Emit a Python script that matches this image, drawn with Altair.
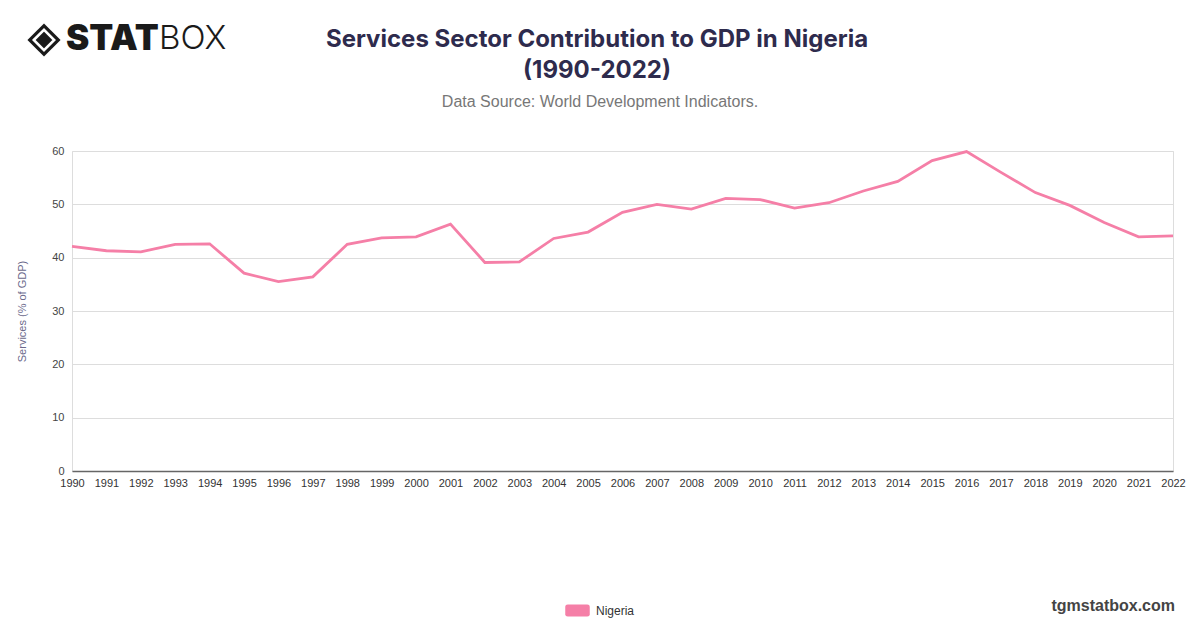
import altair as alt
import pandas as pd

years = list(range(1990, 2023))
services = [42.1, 41.3, 41.1, 42.5, 42.6, 37.1, 35.5, 36.4, 42.5, 43.7, 43.9, 46.3,
            39.1, 39.2, 43.6, 44.8, 48.5, 50.0, 49.1, 51.1, 50.9, 49.3, 50.3, 52.5,
            54.3, 58.2, 59.9, 56.0, 52.2, 49.8, 46.6, 43.9, 44.1]
country = ["Nigeria"] * len(years)

title_lines = ["Services Sector Contribution to GDP in Nigeria", "(1990-2022)"]
subtitle = "Data Source: World Development Indicators."

df = pd.DataFrame({"year": years, "value": services, "country": country})

PINK = "#F57FA7"

rounded = ("M-0.8,-0.5 H0.8 Q1,-0.5 1,-0.3 V0.3 Q1,0.5 0.8,0.5 H-0.8 "
           "Q-1,0.5 -1,0.3 V-0.3 Q-1,-0.5 -0.8,-0.5 Z")

line = alt.Chart(df).mark_line(strokeWidth=2.8, interpolate="linear").encode(
    x=alt.X("year:Q",
            scale=alt.Scale(domain=[1990, 2022], nice=False, zero=False),
            axis=alt.Axis(values=years, format="d", title=None, grid=False,
                          ticks=False, domainColor="#666666", domainWidth=1.5,
                          labelColor="#333333", labelFontSize=11,
                          labelFont="Liberation Sans", labelPadding=6,
                          labelOverlap=False, labelFlush=False)),
    y=alt.Y("value:Q",
            scale=alt.Scale(domain=[0, 60], nice=False),
            axis=alt.Axis(values=[0, 10, 20, 30, 40, 50, 60], title="Services (% of GDP)",
                          domain=False, ticks=False, gridColor="#dddddd",
                          labelColor="#444444", labelFontSize=11,
                          labelFont="Liberation Sans", labelPadding=8,
                          titleColor="#6b6a8c", titleFontSize=11,
                          titleFont="Liberation Sans", titleFontWeight="normal",
                          titlePadding=24)),
    color=alt.Color("country:N",
                    scale=alt.Scale(domain=["Nigeria"], range=[PINK]),
                    legend=alt.Legend(title=None, orient="none", legendX=493,
                                      legendY=447, symbolType=rounded,
                                      symbolSize=600, symbolStrokeWidth=0,
                                      symbolFillColor=PINK, symbolOpacity=1,
                                      labelFont="Liberation Sans", labelFontSize=12,
                                      labelColor="#333333", labelOffset=6)),
)

def txt(s, x, y, size, weight="normal", color="#222222", align="left", font="Inter"):
    return alt.Chart(pd.DataFrame({"t": [s]})).mark_text(
        align=align, baseline="middle", fontSize=size, fontWeight=weight,
        color=color, font=font).encode(
        text="t:N", x=alt.value(x), y=alt.value(y))

title1 = txt(title_lines[0], 525, -111, 24, weight="bold", color="#2e2b4d", align="center")
title2 = txt(title_lines[1], 525, -80, 24, weight="bold", color="#2e2b4d", align="center")
sub = txt(subtitle, 528, -49, 16, color="#777777", align="center", font="Liberation Sans")

logo_stat = txt("STAT", -6, -112, 35, weight=900, color="#1a1a1a")
logo_box = txt("BOX", 87, -112, 33, weight=300, color="#1a1a1a")

icon_outer = alt.Chart(pd.DataFrame({"t": [1]})).mark_point(
    shape="diamond", filled=True, color="#1a1a1a", size=1100, opacity=1).encode(
    x=alt.value(-28), y=alt.value(-111))
icon_inner = alt.Chart(pd.DataFrame({"t": [1]})).mark_point(
    shape="diamond", filled=False, stroke="#ffffff", size=420, strokeWidth=2.5,
    opacity=1).encode(x=alt.value(-28), y=alt.value(-111))

site = txt("tgmstatbox.com", 1103, 455, 16, weight="bold", color="#444444",
           align="right", font="Liberation Sans")

chart = alt.layer(line, icon_outer, icon_inner, logo_stat, logo_box,
                  title1, title2, sub, site).properties(
    width=1101, height=320,
    padding={"left": 64, "top": 143, "right": 19, "bottom": 149},
    autosize=alt.AutoSizeParams(type="none"),
).configure_view(stroke=None).configure(background="white")

chart.save("out.html", embed_options={"renderer": "svg", "actions": False})
